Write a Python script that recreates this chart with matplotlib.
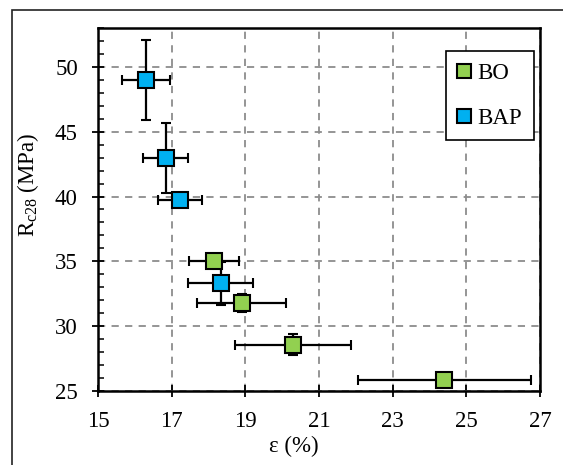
import matplotlib
matplotlib.use("Agg")
import matplotlib.pyplot as plt
from matplotlib.patches import Rectangle
from matplotlib.ticker import MultipleLocator

# BO series
bo_eps = [18.15, 18.90, 20.30, 24.40]
bo_eps_err = [0.69, 1.20, 1.58, 2.35]
bo_rc = [35.05, 31.75, 28.55, 25.85]
bo_rc_err = [0.25, 0.70, 0.80, 0.20]

# BAP series
bap_eps = [16.30, 16.84, 17.23, 18.33]
bap_eps_err = [0.66, 0.61, 0.59, 0.88]
bap_rc = [49.0, 42.95, 39.75, 33.3]
bap_rc_err = [3.1, 2.7, 0.3, 1.67]

x_ticks = [15, 17, 19, 21, 23, 25, 27]
y_ticks = [25, 30, 35, 40, 45, 50]

plt.rcParams["font.family"] = ["Liberation Serif", "DejaVu Serif"]
plt.rcParams["mathtext.fontset"] = "custom"
plt.rcParams["mathtext.rm"] = "Liberation Serif"
plt.rcParams["mathtext.it"] = "Liberation Serif:italic"

fs = 16.5

fig = plt.figure(figsize=(5.63, 4.65), dpi=100)
ax = fig.add_axes([0.174, 0.160, 0.785, 0.779])

# outer frame of the original figure (cut at right/bottom)
fig.patches.append(Rectangle((12 / 563, -0.1), 1.2, 1 - 10 / 465 + 0.1,
                             transform=fig.transFigure, fill=False,
                             edgecolor="#222222", linewidth=1.2))

ax.grid(True, which="major", color="#8c8c8c", linestyle=(0, (4, 3.5)),
        linewidth=1.3, zorder=0)
ax.set_axisbelow(True)

common = dict(fmt="s", markersize=11, markeredgecolor="black",
              markeredgewidth=1.5, ecolor="black", elinewidth=1.6,
              capsize=3.5, capthick=1.6, zorder=3)
ax.errorbar(bo_eps, bo_rc, xerr=bo_eps_err, yerr=bo_rc_err,
            color="#92D050", label="BO", **common)
ax.errorbar(bap_eps, bap_rc, xerr=bap_eps_err, yerr=bap_rc_err,
            color="#00B0F0", label="BAP", **common)

ax.set_xlim(15, 27)
ax.set_ylim(25, 53)
ax.set_xticks(x_ticks)
ax.set_yticks(y_ticks)
ax.yaxis.set_minor_locator(MultipleLocator(1))
ax.tick_params(axis="both", which="major", direction="inout", length=9,
               width=1.3, labelsize=fs, pad=10)
ax.tick_params(axis="y", which="minor", direction="in", length=4.5, width=1.1)
for s in ax.spines.values():
    s.set_linewidth(1.8)

ax.set_xlabel("ε (%)", fontsize=fs)
ax.xaxis.set_label_coords(0.443, -0.125)
ax.set_ylabel(r"R$_{\mathrm{c28}}$ (MPa)", fontsize=fs)
ax.yaxis.set_label_coords(-0.13, 0.568)

handles, labels = ax.get_legend_handles_labels()
handles = [h[0] for h in handles]
leg = ax.legend(handles, labels, loc="upper right",
                bbox_to_anchor=(0.986, 0.937), borderaxespad=0,
                fontsize=fs, fancybox=False, framealpha=1,
                edgecolor="black", labelspacing=1.05, handlelength=0.6,
                handletextpad=0.3, borderpad=0.5, markerscale=0.95)
leg.get_frame().set_linewidth(1.2)

fig.savefig("out.png", dpi=100)
